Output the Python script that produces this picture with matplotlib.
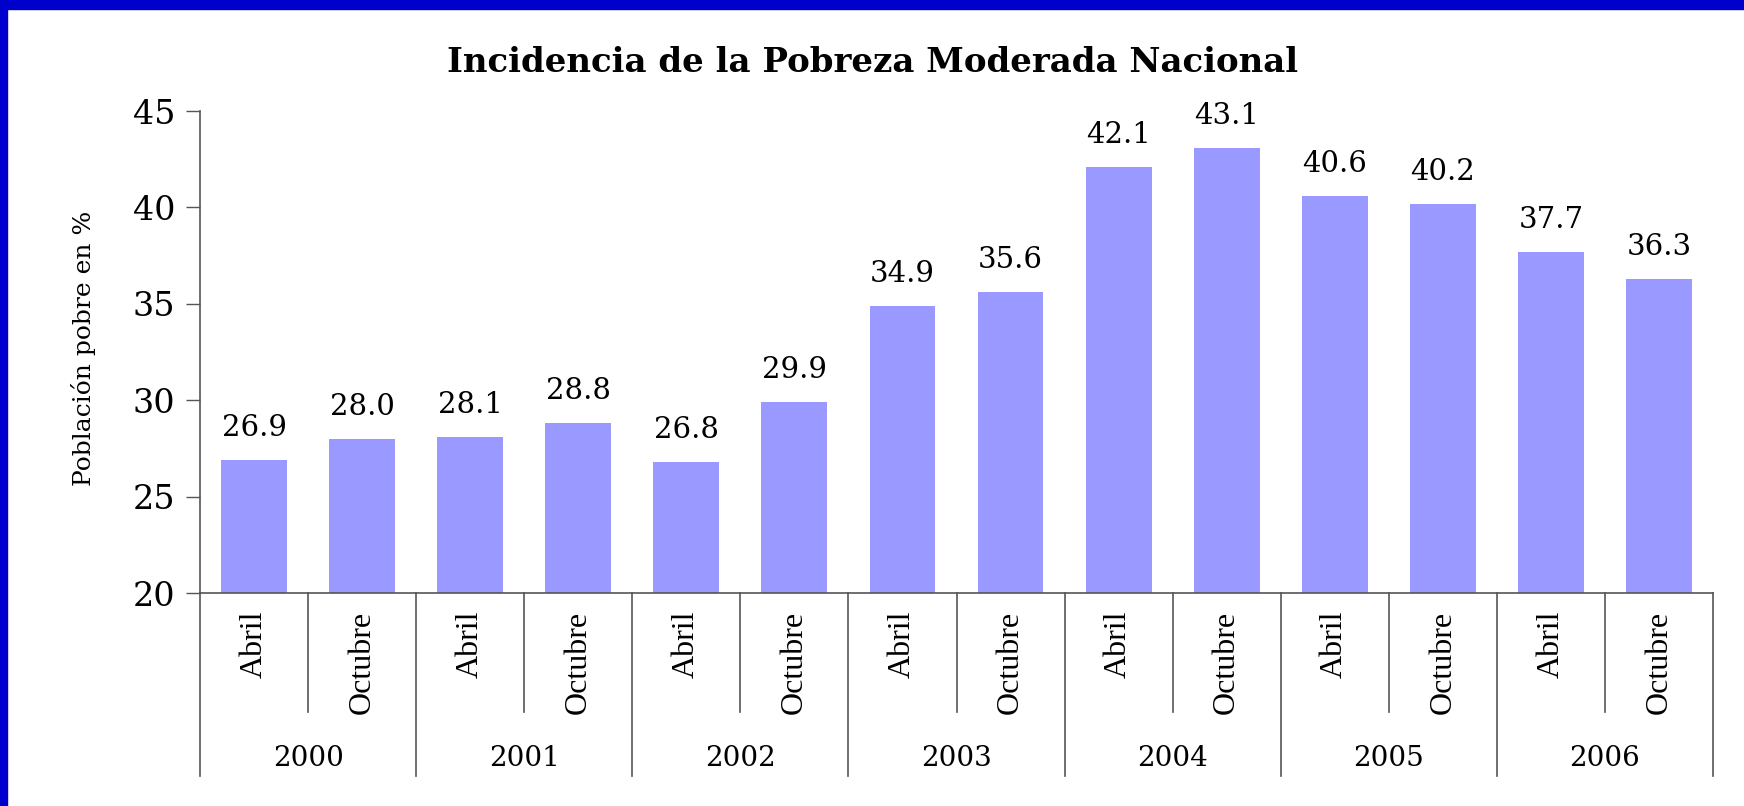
import matplotlib
matplotlib.use("Agg")
import matplotlib.pyplot as plt
from matplotlib.patches import Rectangle
import matplotlib.transforms as mtransforms

years = ["2000", "2001", "2002", "2003", "2004", "2005", "2006"]
months = ["Abril", "Octubre"]
values = [26.9, 28.0, 28.1, 28.8, 26.8, 29.9, 34.9, 35.6, 42.1, 43.1, 40.6, 40.2, 37.7, 36.3]
labels = ["26.9", "28.0", "28.1", "28.8", "26.8", "29.9", "34.9", "35.6", "42.1", "43.1", "40.6", "40.2", "37.7", "36.3"]
yticks = [20, 25, 30, 35, 40, 45]

W, H = 1744, 806
fig = plt.figure(figsize=(W / 100, H / 100), dpi=100)
fig.patch.set_facecolor("white")
plt.rcParams["font.family"] = ["DejaVu Serif"]
COND = ["Liberation Serif", "DejaVu Serif"]

ax = fig.add_axes([200 / W, 1 - 593 / H, (1713 - 200) / W, (593 - 111) / H])
x = list(range(len(values)))
ax.bar(x, values, width=0.61, color="#9999FF", bottom=0)
ax.set_xlim(-0.5, len(values) - 0.5)
ax.set_ylim(20, 45)
ax.set_yticks(yticks)
ax.set_yticklabels([str(t) for t in yticks], fontsize=24, family="DejaVu Serif")
ax.tick_params(axis="y", length=10, width=1, color="#555555", pad=8)
ax.set_xticks([])
for s in ["top", "right"]:
    ax.spines[s].set_visible(False)
for s in ["left", "bottom"]:
    ax.spines[s].set_color("#555555")
    ax.spines[s].set_linewidth(1.2)

for xi, v, lab in zip(x, values, labels):
    ax.annotate(lab, (xi, v), xytext=(0, 32), textcoords="offset pixels",
                ha="center", va="center", fontsize=21, color="black",
                family="DejaVu Serif")

trans = mtransforms.blended_transform_factory(ax.transData, ax.transAxes)
ah = 593 - 111
n = len(values)
for i in range(n + 1):
    xb = i - 0.5
    if i % 2 == 0:
        ax.plot([xb, xb], [0, -(776 - 593) / ah], transform=trans, color="#555555",
                lw=1.2, clip_on=False)
    else:
        ax.plot([xb, xb], [0, -(712 - 593) / ah], transform=trans, color="#555555",
                lw=1.2, clip_on=False)

for i in range(n):
    ax.text(i, -(611 - 593) / ah, months[i % 2], rotation=90, ha="center", va="top",
            fontsize=23, transform=trans, family=COND)

for j, yr in enumerate(years):
    ax.text(2 * j + 0.5, -(758 - 593) / ah, yr, ha="center", va="center",
            fontsize=20, transform=trans, family="DejaVu Serif")

fig.text(83 / W, 1 - 348 / H, "Población pobre en %", rotation=90,
         ha="center", va="center", fontsize=18, family="DejaVu Serif")

fig.text(873 / W, 1 - 62 / H, "Incidencia de la Pobreza Moderada Nacional",
         ha="center", va="center", fontsize=24.5, fontweight="bold",
         family="DejaVu Serif")

fig.patches.append(Rectangle((0, 1 - 9 / H), 1, 9 / H, transform=fig.transFigure,
                             color="#0000CC", zorder=10))
fig.patches.append(Rectangle((0, 0), 7 / W, 1, transform=fig.transFigure,
                             color="#0000CC", zorder=10))

fig.savefig("out.png", dpi=100, facecolor="white")
